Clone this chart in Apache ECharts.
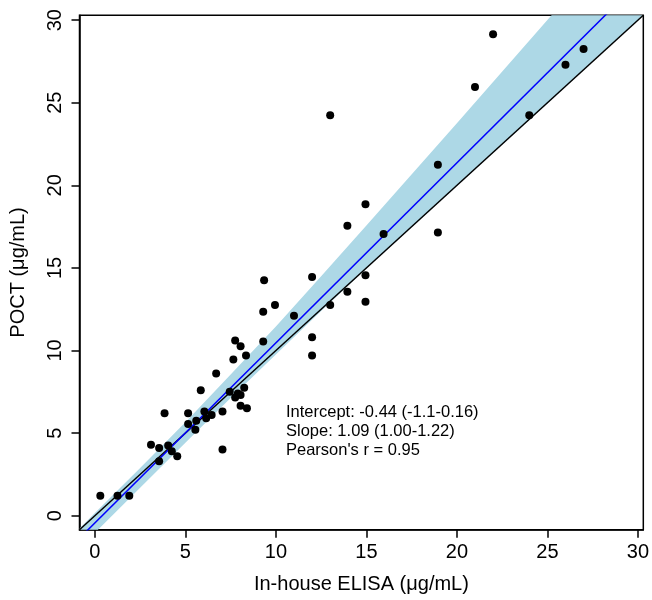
<!DOCTYPE html>
<html><head><meta charset="utf-8">
<script src="https://cdn.jsdelivr.net/npm/echarts@6/dist/echarts.min.js"></script>
<style>html,body{margin:0;padding:0;background:#fff}#c{width:652px;height:600px}</style>
</head><body><div id="c"></div>
<script>
// Data
const elisa = [0.3,1.25,1.9,3.1,3.55,3.55,3.85,4.05,4.25,4.55,5.15,5.15,5.55,5.6,5.85,6.05,6.15,6.45,7.05,7.05,7.45,7.75,7.9,8.05,8.25,8.05,8.4,6.7,7.65,7.75,8.05,8.35,9.3,9.3,9.35,9.95,11.0,12.0,12.0,12.0,13.0,13.0,13.95,13.95,14.95,14.95,14.95,15.95,18.95,18.95,21.0,22.0,24.0,26.0,27.0];
const poct  = [1.2,1.2,1.2,4.3,4.1,3.3,6.2,4.25,3.9,3.6,6.2,5.55,5.2,5.75,7.6,6.3,5.9,6.1,6.3,4.0,7.5,7.15,7.4,7.3,7.75,6.65,6.5,8.6,9.45,10.6,10.25,9.7,10.55,12.35,14.25,12.75,12.1,14.45,10.8,9.7,12.75,24.25,13.55,17.55,18.85,14.55,12.95,17.05,21.25,17.15,25.95,29.15,24.25,27.3,28.25];
const axisMin = -0.85, axisMax = 30.3;
const tickValues = [0,5,10,15,20,25,30];
const regIntercept = -0.44, regSlope = 1.09;
const bandX     = [-0.85, 0, 2.5, 5, 7.5, 10, 12.5, 15, 20, 25, 30.3];
const bandUpper = [-0.77, 0.16, 2.89, 5.66, 8.54, 11.46, 14.49, 17.56, 23.76, 30.01, 36.6];
const bandLower = [-1.97, -1.04, 1.69, 4.41, 7.12, 9.76, 12.39, 14.96, 19.96, 24.96, 30.29];
const annotation = ["Intercept: -0.44 (-1.1-0.16)", "Slope: 1.09 (1.00-1.22)", "Pearson's r = 0.95"];
const xName = "In-house ELISA (μg/mL)";
const yName = "POCT (μg/mL)";

const FONT = "'Liberation Sans', Arial, Helvetica, sans-serif";
const chart = echarts.init(document.getElementById('c'), null, {renderer:'canvas'});
const scatterData = elisa.map((x,i)=>[x, poct[i]]);
const identity = [[axisMin, axisMin],[axisMax, axisMax]];
const regLine = [axisMin, axisMax].map(x => [x, regIntercept + regSlope*x]);

function axisCommon(name, isY){
  return {
    type:'value', min:axisMin, max:axisMax, name:name, nameLocation:'middle',
    nameGap: isY ? 51 : 45,
    nameRotate: isY ? 90 : 0,
    nameTextStyle:{fontFamily:FONT, fontSize:20, color:'#000'},
    splitLine:{show:false},
    axisLine:{show:true, onZero:false, lineStyle:{color:'#000', width:1.5}},
    axisTick:{show:true, inside:false, length:8, lineStyle:{color:'#000', width:1.5}, customValues: tickValues},
    axisLabel:{show:true, fontFamily:FONT, fontSize:20, color:'#000', margin: isY ? 14 : 13, rotate: isY ? 90 : 0, customValues: tickValues, showMinLabel:true, showMaxLabel:true}
  };
}

chart.setOption({
  animation:false,
  backgroundColor:'#fff',
  grid:{left:79.5, right:6.7, top:15.2, bottom:70.3, show:true, borderColor:'#000', borderWidth:1.5, backgroundColor:'transparent'},
  xAxis: axisCommon(xName, false),
  yAxis: axisCommon(yName, true),
  series:[
    {
      type:'custom', silent:true, z:1,
      data:[[0,0]],
      renderItem:function(params, api){
        const pts = [];
        for (let i=0;i<bandX.length;i++) pts.push(api.coord([bandX[i], bandUpper[i]]));
        for (let i=bandX.length-1;i>=0;i--) pts.push(api.coord([bandX[i], bandLower[i]]));
        const cs = params.coordSys;
        return {type:'polygon', shape:{points:pts}, style:{fill:'#ADD8E6'},
          clipPath:{type:'rect', shape:{x:cs.x, y:cs.y, width:cs.width, height:cs.height}}};
      }
    },
    {type:'line', data:identity, symbol:'none', z:3, lineStyle:{color:'#000', width:1.5}, clip:true, silent:true},
    {type:'line', data:regLine, symbol:'none', z:4, lineStyle:{color:'#0000FF', width:1.5}, clip:true, silent:true},
    {type:'scatter', data:scatterData, symbol:'circle', symbolSize:8, z:5, itemStyle:{color:'#000', opacity:1}, silent:true}
  ],
  graphic:[{
    type:'text', left:286, top:402.5,
    style:{text:annotation.join('\n'), font:'16.5px '+FONT, fill:'#000', lineHeight:19}
  }]
});
</script></body></html>
